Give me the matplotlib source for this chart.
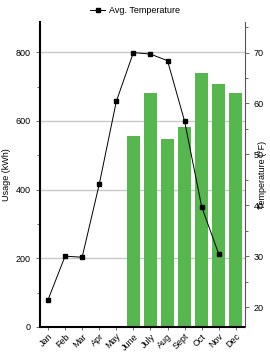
import numpy as np
import matplotlib
matplotlib.use("Agg")
import matplotlib.pyplot as plt
from matplotlib.ticker import MultipleLocator

plt.rcParams['font.family'] = ['Liberation Sans', 'DejaVu Sans']

months = ['Jan', 'Feb', 'Mar', 'Apr', 'May', 'June', 'July', 'Aug', 'Sept', 'Oct', 'Nov', 'Dec']
usage = [0, 0, 0, 0, 0, 556, 682, 547, 583, 739, 707, 680]
temp = [21.4, 30.0, 29.8, 44.1, 60.4, 70.0, 69.7, 68.4, 56.5, 39.7, 30.4, np.nan]

x = np.arange(len(months))

fig = plt.figure(figsize=(2.7, 3.55), dpi=100)
ax = fig.add_axes([0.148, 0.079, 0.759, 0.859])
ax2 = ax.twinx()

# usage bars on the left axis
ax.grid(axis='y', color='#c8c8c8', linewidth=1.0)
ax.set_axisbelow(True)
ax.bar(x, usage, width=0.76, color='#55b74e', zorder=2)
ax.set_xlim(-0.47, 11.53)
ax.set_ylim(0, 888)
ax.yaxis.set_major_locator(MultipleLocator(200))
ax.yaxis.set_minor_locator(MultipleLocator(100))
ax.set_xticks(x)
ax.set_xticklabels(months, rotation=45, ha='right', rotation_mode='anchor', fontsize=6.5)
ax.tick_params(axis='y', labelsize=6.5, length=3, width=0.6, color='#555555')
ax.tick_params(axis='y', which='minor', length=2, width=0.6, color='#555555')
ax.tick_params(axis='x', length=2.5, width=0.6, color='#555555', pad=1)
ax.set_ylabel('Usage (kWh)', fontsize=6.5)
ax.yaxis.set_label_coords(-0.14, 0.5)
for s in ['left', 'bottom']:
    ax.spines[s].set_linewidth(1.5)
ax.spines['top'].set_visible(False)
ax.spines['right'].set_visible(False)

# temperature line on the right axis
ax2.plot(x, temp, color='black', linewidth=0.7, marker='s', markersize=3.2, label='Avg. Temperature')
ax2.set_ylim(16.1, 76)
ax2.yaxis.set_major_locator(MultipleLocator(10))
ax2.yaxis.set_minor_locator(MultipleLocator(5))
ax2.tick_params(axis='y', labelsize=6.5, length=3, width=0.6, color='#555555')
ax2.tick_params(axis='y', which='minor', length=2, width=0.6, color='#555555')
ax2.set_ylabel('Temperature (°F)', fontsize=6.5)
ax2.yaxis.set_label_coords(1.063, 0.5)
ax2.spines['top'].set_visible(False)
ax2.spines['left'].set_visible(False)
ax2.spines['bottom'].set_visible(False)
ax2.spines['right'].set_color('#555555')
ax2.spines['right'].set_linewidth(0.8)

fig.legend(loc='upper center', bbox_to_anchor=(0.5, 1.005), frameon=False, fontsize=6.5,
           handlelength=1.6, handletextpad=0.4)

fig.savefig('out.png', dpi=100)
